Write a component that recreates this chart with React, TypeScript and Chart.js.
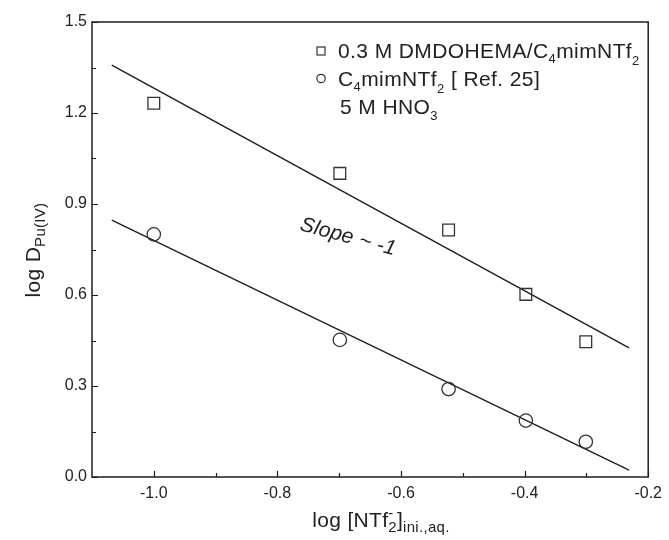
import React, { useEffect, useRef } from "react";
import { Chart, registerables } from "chart.js";

Chart.register(...registerables);

// ---- data ----
const logNTf2 = [-1.0, -0.699, -0.523, -0.398, -0.301];
const dmdohema = [1.232, 1.001, 0.814, 0.602, 0.446];
const ref25 = [0.8, 0.452, 0.29, 0.186, 0.116];
const fitX = [-1.068, -0.231];
const fitUpper = [1.358, 0.426];
const fitLower = [0.847, 0.023];
const xTicks = [-1.0, -0.8, -0.6, -0.4, -0.2];
const xMinorTicks = [-0.9, -0.7, -0.5, -0.3];
const yTicks = [0, 0.3, 0.6, 0.9, 1.2, 1.5];
const yMinorTicks = [0.15, 0.45, 0.75, 1.05, 1.35];

const FONT = '"Liberation Sans", Arial, Helvetica, sans-serif';
const INK = "#1e1e1e";

type Part = { t: string; s: number; dy?: number; italic?: boolean; stack?: boolean };

function setFont(ctx: CanvasRenderingContext2D, p: Part, spacing: number) {
  ctx.font = `${p.italic ? "italic " : ""}${p.s}px ${FONT}`;
  (ctx as any).letterSpacing = `${spacing}px`;
}

function partsWidth(ctx: CanvasRenderingContext2D, parts: Part[], spacing = 0) {
  let w = 0;
  let prev = 0;
  for (const p of parts) {
    setFont(ctx, p, spacing);
    const pw = ctx.measureText(p.t).width;
    if (p.stack) {
      w += Math.max(0, pw - prev);
      prev = Math.max(prev, pw);
    } else {
      w += pw;
      prev = pw;
    }
  }
  return w;
}

function drawParts(ctx: CanvasRenderingContext2D, x: number, y: number, parts: Part[], spacing = 0) {
  let cx = x;
  let prevStart = x;
  let prevW = 0;
  ctx.textAlign = "left";
  ctx.textBaseline = "alphabetic";
  for (const p of parts) {
    setFont(ctx, p, spacing);
    const pw = ctx.measureText(p.t).width;
    if (p.stack) {
      ctx.fillText(p.t, prevStart, y + (p.dy || 0));
      const end = Math.max(prevStart + prevW, prevStart + pw);
      cx = end;
      prevW = end - prevStart;
    } else {
      ctx.fillText(p.t, cx, y + (p.dy || 0));
      prevStart = cx;
      prevW = pw;
      cx += pw;
    }
  }
  (ctx as any).letterSpacing = "0px";
}

const decorPlugin = {
  id: "decor",
  afterDraw(chart: any) {
    const ctx: CanvasRenderingContext2D = chart.ctx;
    const a = chart.chartArea;
    const xs = chart.scales.x;
    const ys = chart.scales.y;
    ctx.save();
    // frame
    ctx.strokeStyle = INK;
    ctx.lineWidth = 1.5;
    ctx.strokeRect(a.left, a.top, a.right - a.left, a.bottom - a.top);
    // ticks (inward)
    ctx.lineWidth = 1.2;
    ctx.beginPath();
    for (const v of xTicks) {
      const px = Math.round(xs.getPixelForValue(v)) + 0.5;
      ctx.moveTo(px, a.bottom);
      ctx.lineTo(px, a.bottom - 6);
    }
    for (const v of xMinorTicks) {
      const px = Math.round(xs.getPixelForValue(v)) + 0.5;
      ctx.moveTo(px, a.bottom);
      ctx.lineTo(px, a.bottom - 4);
    }
    for (const v of yTicks) {
      const py = Math.round(ys.getPixelForValue(v)) + 0.5;
      ctx.moveTo(a.left, py);
      ctx.lineTo(a.left + 6, py);
    }
    for (const v of yMinorTicks) {
      const py = Math.round(ys.getPixelForValue(v)) + 0.5;
      ctx.moveTo(a.left, py);
      ctx.lineTo(a.left + 4, py);
    }
    ctx.stroke();

    ctx.fillStyle = "#222";
    // legend
    ctx.strokeStyle = "#333";
    ctx.lineWidth = 1.2;
    ctx.strokeRect(317, 47, 8, 8);
    ctx.beginPath();
    ctx.arc(321, 78.5, 4.2, 0, Math.PI * 2);
    ctx.stroke();
    drawParts(ctx, 338, 58, [
      { t: "0.3 M DMDOHEMA/C", s: 21 },
      { t: "4", s: 13, dy: 5 },
      { t: "mimNTf", s: 21 },
      { t: "2", s: 13, dy: 7 },
    ], 0.4);
    drawParts(ctx, 338, 85.5, [
      { t: "C", s: 21 },
      { t: "4", s: 13, dy: 5 },
      { t: "mimNTf", s: 21 },
      { t: "2", s: 13, dy: 7 },
      { t: " [ Ref. 25]", s: 21 },
    ], 0.4);
    drawParts(ctx, 340, 113.5, [
      { t: "5 M HNO", s: 21 },
      { t: "3", s: 13, dy: 6 },
    ], 0.4);

    // slope annotation
    ctx.save();
    ctx.translate(299, 230);
    ctx.rotate((15 * Math.PI) / 180);
    drawParts(ctx, 0, 0, [{ t: "Slope ~ -1", s: 21, italic: true }], 0.2);
    ctx.restore();

    // x title
    const xParts: Part[] = [
      { t: "log [NTf", s: 21 },
      { t: "2", s: 15, dy: 5 },
      { t: "-", s: 15, dy: -9, stack: true },
      { t: "]", s: 21 },
      { t: "ini.,aq.", s: 15, dy: 5 },
    ];
    const xw = partsWidth(ctx, xParts, 0.3);
    drawParts(ctx, 381 - xw / 2, 527, xParts, 0.3);

    // y title
    const yParts: Part[] = [
      { t: "log D", s: 21 },
      { t: "Pu(IV)", s: 15, dy: 5 },
    ];
    const yw = partsWidth(ctx, yParts, 0.3);
    ctx.save();
    ctx.translate(40, 250);
    ctx.rotate(-Math.PI / 2);
    drawParts(ctx, -yw / 2, 0, yParts, 0.3);
    ctx.restore();

    ctx.restore();
  },
};

export default function App() {
  const ref = useRef<HTMLCanvasElement | null>(null);

  useEffect(() => {
    document.body.style.margin = "0";
    const canvas = ref.current;
    if (!canvas) return;
    const pts = (ys: number[], xs: number[]) => xs.map((x, i) => ({ x, y: ys[i] }));
    const chart = new Chart(canvas, {
      type: "scatter",
      data: {
        datasets: [
          {
            label: "0.3 M DMDOHEMA/C4mimNTf2",
            data: pts(dmdohema, logNTf2),
            pointStyle: "rect",
            pointRadius: 8.3,
            borderColor: "#333",
            borderWidth: 1.3,
            backgroundColor: "rgba(0,0,0,0)",
            showLine: false,
          },
          {
            label: "C4mimNTf2 [ Ref. 25]",
            data: pts(ref25, logNTf2),
            pointStyle: "circle",
            pointRadius: 6.7,
            borderColor: "#333",
            borderWidth: 1.3,
            backgroundColor: "rgba(0,0,0,0)",
            showLine: false,
          },
          {
            label: "fit upper",
            data: pts(fitUpper, fitX),
            showLine: true,
            pointRadius: 0,
            borderColor: INK,
            borderWidth: 1.4,
          },
          {
            label: "fit lower",
            data: pts(fitLower, fitX),
            showLine: true,
            pointRadius: 0,
            borderColor: INK,
            borderWidth: 1.4,
          },
        ],
      },
      options: {
        animation: false,
        responsive: false,
        devicePixelRatio: 1,
        layout: { padding: { top: 22, right: 17, left: 0, bottom: 0 } },
        plugins: {
          legend: { display: false },
          tooltip: { enabled: false },
        },
        scales: {
          x: {
            type: "linear",
            min: -1.1,
            max: -0.2,
            grid: { display: false, drawTicks: false },
            border: { display: false },
            afterBuildTicks: (s: any) => {
              s.ticks = xTicks.map((v) => ({ value: v }));
            },
            afterFit: (s: any) => {
              s.height = 63;
            },
            ticks: {
              autoSkip: false,
              maxRotation: 0,
              padding: 7,
              color: "#222",
              font: { family: FONT, size: 16 },
              callback: (v: any) => Number(v).toFixed(1),
            },
          },
          y: {
            type: "linear",
            min: 0,
            max: 1.5,
            grid: { display: false, drawTicks: false },
            border: { display: false },
            afterBuildTicks: (s: any) => {
              s.ticks = yTicks.map((v) => ({ value: v }));
            },
            afterFit: (s: any) => {
              s.width = 92;
            },
            ticks: {
              autoSkip: false,
              padding: 5,
              color: "#222",
              font: { family: FONT, size: 16 },
              callback: (v: any) => Number(v).toFixed(1),
            },
          },
        },
      },
      plugins: [decorPlugin],
    });
    return () => chart.destroy();
  }, []);

  return (
    <div style={{ width: 669, height: 540 }}>
      <canvas ref={ref} width={669} height={540} style={{ display: "block", width: 669, height: 540 }} />
    </div>
  );
}
